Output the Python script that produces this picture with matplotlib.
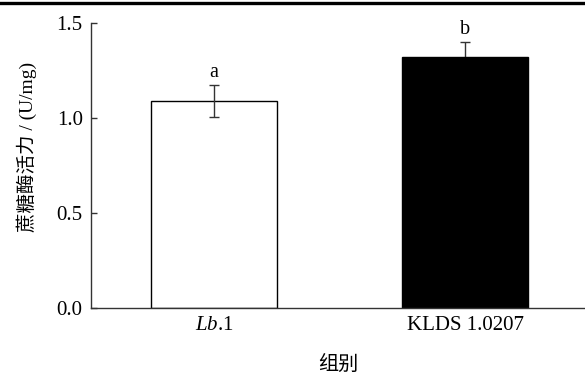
import numpy as np
import matplotlib
matplotlib.use('Agg')
from matplotlib import pyplot as plt
from matplotlib.lines import Line2D

# sucrase activity by strain
groups = [r'$\it{Lb}$.1', 'KLDS 1.0207']
activity = [1.09, 1.32]
activity_err = [0.085, 0.08]
sig_letters = ['a', 'b']

plt.rcParams['font.family'] = ['Liberation Serif', 'Noto Sans CJK SC']
plt.rcParams['mathtext.fontset'] = 'custom'
plt.rcParams['mathtext.rm'] = 'Liberation Serif'
plt.rcParams['mathtext.it'] = 'Liberation Serif:italic'

fig = plt.figure(figsize=(5.85, 3.74), dpi=100)
ax = fig.add_axes([0.1556, 0.1765, 0.8444, 0.762])

x = np.arange(len(groups))
ax.bar(x, activity, width=0.5, color=['white', 'black'],
       edgecolor='black', linewidth=1.0, zorder=2)
ax.errorbar(x[0], activity[0], yerr=activity_err[0], fmt='none',
            ecolor='#333333', elinewidth=1.0, capsize=3.6, capthick=1.0, zorder=3)
ax.errorbar(x[1], activity[1], yerr=activity_err[1], fmt='none',
            ecolor='#333333', elinewidth=1.0, capsize=3.6, capthick=1.0, zorder=1)
for i in range(len(groups)):
    ax.text(x[i], activity[i] + activity_err[i] + 0.015, sig_letters[i],
            ha='center', va='bottom', fontsize=14.5)

ax.set_xlim(-0.49, 1.478)
ax.set_ylim(0, 1.5)
ax.set_yticks([0.0, 0.5, 1.0, 1.5])
ax.set_yticklabels(['0.0', '0.5', '1.0', '1.5'])
ax.set_xticks(x)
ax.set_xticklabels(groups)

for s in ['top', 'right']:
    ax.spines[s].set_visible(False)
for s in ['left', 'bottom']:
    ax.spines[s].set_color('#333333')
    ax.spines[s].set_linewidth(1.0)
ax.tick_params(axis='both', direction='in', length=4, width=1.0,
               color='#333333', labelsize=15, pad=6)

ax.set_xlabel('组别', fontsize=14.5, fontweight='light', va='center')
ax.xaxis.set_label_coords(0.5, -0.2)
ax.set_ylabel('蔗糖酶活力 / (U/mg)', fontsize=14, fontweight='light')
ax.yaxis.set_label_coords(-0.11, 0.565)

# rule along the top edge
fig.add_artist(Line2D([0, 1], [0.993, 0.993], color='black', linewidth=2.4,
                      transform=fig.transFigure))

plt.savefig('out.png', dpi=100)
